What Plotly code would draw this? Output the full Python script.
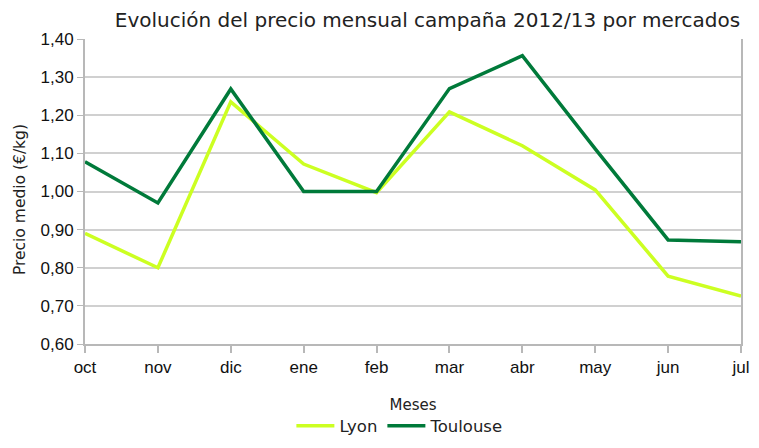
import plotly.graph_objects as go

meses = ["oct", "nov", "dic", "ene", "feb", "mar", "abr", "may", "jun", "jul"]
lyon = [0.89, 0.80, 1.235, 1.072, 0.997, 1.209, 1.12, 1.004, 0.778, 0.726]
toulouse = [1.078, 0.97, 1.269, 1.00, 1.00, 1.27, 1.356, 1.112, 0.873, 0.868]

fig = go.Figure()
fig.add_trace(go.Scatter(x=meses, y=lyon, name="Lyon", mode="lines",
                         line=dict(color="#ccff22", width=3.5)))
fig.add_trace(go.Scatter(x=meses, y=toulouse, name="Toulouse", mode="lines",
                         line=dict(color="#007a3a", width=3.5)))

# page body has an 8px margin, so the figure is slightly smaller than the window
fig.update_layout(
    width=751, height=440,
    margin=dict(l=77, r=18, t=31, b=104, autoexpand=False),
    paper_bgcolor="white", plot_bgcolor="white",
    separators=",.",
    title=dict(text="Evolución del precio mensual campaña 2012/13 por mercados",
               xref="container", x=0.975, xanchor="right",
               yref="container", y=0.973, yanchor="middle",
               font=dict(family="DejaVu Sans", size=20, color="#222")),
    legend=dict(orientation="h", x=0.48, xanchor="center", y=-0.269, yanchor="middle",
                itemwidth=38, font=dict(family="DejaVu Sans", size=16.5, color="#222")),
    font=dict(family="Liberation Sans", color="#111"),
)
# y title as annotation so it can sit slightly below centre like the original
fig.add_annotation(text="Precio medio (€/kg)", textangle=-90, showarrow=False,
                   xref="paper", yref="paper", x=-0.099, y=0.472,
                   xanchor="center", yanchor="middle",
                   font=dict(family="DejaVu Sans", size=15.5, color="#222"))
fig.update_xaxes(
    title=dict(text="Meses", font=dict(family="DejaVu Sans", size=15, color="#222"), standoff=23),
    range=[0, 9], showgrid=False, showline=True, linecolor="#b8b8b8", linewidth=2,
    ticks="outside", ticklen=7, tickcolor="#b8b8b8", tickwidth=1.5,
    tickfont=dict(size=17), automargin=False,
)
fig.update_yaxes(
    range=[0.6, 1.4], dtick=0.1, tickformat=".2f",
    showgrid=True, gridcolor="#d0d0d0", gridwidth=1.5,
    showline=True, linecolor="#b8b8b8", linewidth=2, mirror=True,
    ticks="outside", ticklen=6, tickcolor="#b8b8b8",
    tickfont=dict(size=17), zeroline=False, automargin=False,
)

fig.write_html("out.html")
